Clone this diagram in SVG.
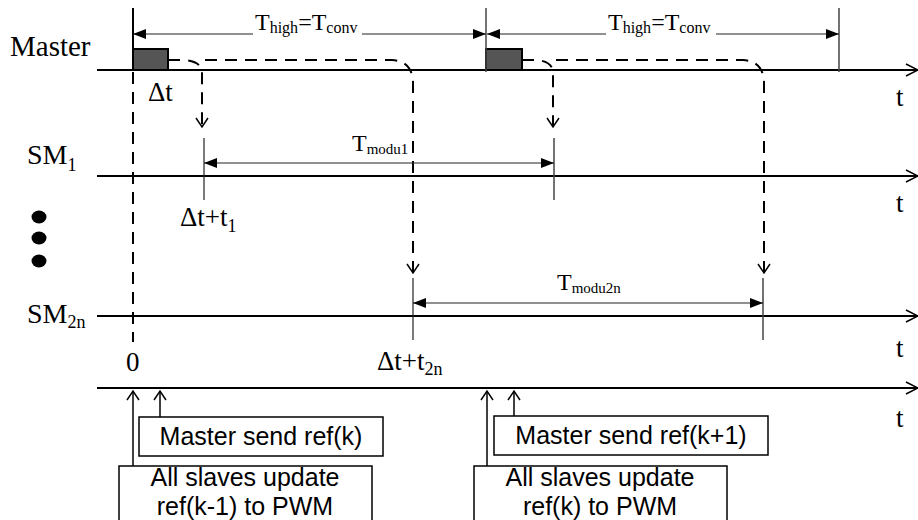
<svg xmlns="http://www.w3.org/2000/svg" width="918" height="520" viewBox="0 0 918 520">
<style>
.axis{stroke:#000;stroke-width:2;fill:none}
.dim{stroke:#222;stroke-width:1.2;fill:none}
.tick{stroke:#444;stroke-width:1.5;fill:none}
.dash{stroke:#000;stroke-width:2;fill:none;stroke-dasharray:12 8}
.pulse{fill:#555;stroke:#000;stroke-width:2}
.box{fill:#fff;stroke:#000;stroke-width:1.5}
.up{stroke:#000;stroke-width:1.5;fill:none}
.serif{font-family:"Liberation Serif","Times New Roman",serif;fill:#000}
.sans{font-family:"Liberation Sans",Arial,sans-serif;font-size:25px;fill:#000}
</style>
<defs>
<marker id="fill" markerUnits="userSpaceOnUse" markerWidth="14" markerHeight="10" refX="13" refY="5" orient="auto-start-reverse" overflow="visible">
<path d="M0,0 L13,5 L0,10 Z" fill="#000" stroke="none"/>
</marker>
<marker id="open" markerUnits="userSpaceOnUse" markerWidth="12" markerHeight="14" refX="9" refY="6" orient="auto" overflow="visible">
<path d="M0,0 L9,6 L0,12" fill="none" stroke="#000" stroke-width="1.5" stroke-dasharray="none"/>
</marker>
<marker id="axend" markerUnits="userSpaceOnUse" markerWidth="14" markerHeight="14" refX="12" refY="6" orient="auto" overflow="visible">
<path d="M0,0 L12,6 L0,12" fill="none" stroke="#000" stroke-width="1.5"/>
</marker>
</defs>

<g id="master-row">
<text class="serif" x="10" y="56" font-size="29">Master</text>
<line class="axis" x1="97" y1="70" x2="918" y2="70" marker-end="url(#axend)"/>
<rect class="pulse" x="133" y="49" width="35" height="21"/>
<rect class="pulse" x="486" y="49" width="36" height="21"/>
<text class="serif" x="148" y="101" font-size="27">Δt</text>
<text class="serif" x="896" y="106" font-size="27">t</text>
</g>

<g id="sm1-row">
<text class="serif" x="27" y="164" font-size="28">SM<tspan font-size="18" dy="7">1</tspan></text>
<line class="axis" x1="97" y1="176" x2="918" y2="176" marker-end="url(#axend)"/>
<text class="serif" x="180" y="226" font-size="27">Δt+t<tspan font-size="18" dy="6">1</tspan></text>
<text class="serif" x="896" y="212" font-size="27">t</text>
</g>

<g id="ellipsis">
<ellipse cx="39" cy="217" rx="7.5" ry="6.5"/>
<ellipse cx="39" cy="238" rx="7.5" ry="6.5"/>
<ellipse cx="39" cy="261" rx="7.5" ry="6.5"/>
</g>

<g id="sm2n-row">
<text class="serif" x="27" y="323" font-size="28">SM<tspan font-size="18" dy="5">2n</tspan></text>
<line class="axis" x1="97" y1="316" x2="918" y2="316" marker-end="url(#axend)"/>
<text class="serif" x="126" y="371" font-size="27">0</text>
<text class="serif" x="377" y="370" font-size="27">Δt+t<tspan font-size="18" dy="5">2n</tspan></text>
<text class="serif" x="896" y="357" font-size="27">t</text>
</g>

<g id="bottom-row">
<line class="axis" x1="97" y1="388" x2="918" y2="388" marker-end="url(#axend)"/>
<text class="serif" x="896" y="427" font-size="27">t</text>
</g>

<g id="box-send-k">
<rect class="box" x="139" y="417" width="244" height="39"/>
<text class="sans" x="261" y="445" text-anchor="middle">Master send ref(k)</text>
</g>
<g id="box-update-k1">
<rect class="box" x="119" y="466" width="253" height="60"/>
<text class="sans" x="245" y="486" text-anchor="middle">All slaves update</text>
<text class="sans" x="245" y="515" text-anchor="middle">ref(k-1) to PWM</text>
</g>
<g id="box-send-k1">
<rect class="box" x="494" y="416" width="274" height="39"/>
<text class="sans" x="631" y="444" text-anchor="middle">Master send ref(k+1)</text>
</g>
<g id="box-update-k">
<rect class="box" x="474" y="466" width="253" height="60"/>
<text class="sans" x="600" y="486" text-anchor="middle">All slaves update</text>
<text class="sans" x="600" y="515" text-anchor="middle">ref(k) to PWM</text>
</g>

<g id="connectors">
<line class="axis" x1="133" y1="8" x2="133" y2="49" stroke-width="1.5"/>
<line class="dash" x1="133" y1="72" x2="133" y2="342" stroke-width="1.8"/>
<line class="tick" x1="486" y1="8" x2="486" y2="72"/>
<line class="tick" x1="839" y1="8" x2="839" y2="72"/>
<line class="dim" x1="253" y1="34" x2="133" y2="34" marker-end="url(#fill)"/>
<line class="dim" x1="362" y1="34" x2="486" y2="34" marker-end="url(#fill)"/>
<line class="dim" x1="606" y1="34" x2="487" y2="34" marker-end="url(#fill)"/>
<line class="dim" x1="716" y1="34" x2="839" y2="34" marker-end="url(#fill)"/>
<text class="serif" x="255" y="30" font-size="24">T<tspan font-size="16" dy="3">high</tspan><tspan dy="-3">=T</tspan><tspan font-size="16" dy="3">conv</tspan></text>
<text class="serif" x="608" y="30" font-size="24">T<tspan font-size="16" dy="3">high</tspan><tspan dy="-3">=T</tspan><tspan font-size="16" dy="3">conv</tspan></text>
<path class="dash" d="M168,60 H184 Q201,61 202,72 V127" marker-end="url(#open)"/>
<path class="dash" d="M205,60 H392 Q412,61 413,82 V273" marker-end="url(#open)"/>
<path class="dash" d="M522,60 H536 Q552,61 553,72 V127" marker-end="url(#open)"/>
<path class="dash" d="M556,60 H743 Q763,61 764,82 V273" marker-end="url(#open)"/>
<line class="dim" x1="204" y1="138" x2="204" y2="200"/>
<line class="tick" x1="554" y1="138" x2="554" y2="200"/>
<line class="dim" x1="204" y1="163" x2="554" y2="163" marker-start="url(#fill)" marker-end="url(#fill)"/>
<text class="serif" x="352" y="151" font-size="24">T<tspan font-size="15" dy="3">modu1</tspan></text>
<line class="dim" x1="413" y1="278" x2="413" y2="340"/>
<line class="tick" x1="763" y1="278" x2="763" y2="340"/>
<line class="dim" x1="413" y1="303" x2="763" y2="303" marker-start="url(#fill)" marker-end="url(#fill)"/>
<text class="serif" x="557" y="290" font-size="24">T<tspan font-size="15" dy="3">modu2n</tspan></text>
<line class="up" x1="133" y1="466" x2="133" y2="391" marker-end="url(#open)"/>
<line class="up" x1="160" y1="417" x2="160" y2="391" marker-end="url(#open)"/>
<line class="up" x1="487" y1="466" x2="487" y2="391" marker-end="url(#open)"/>
<line class="up" x1="514" y1="416" x2="514" y2="391" marker-end="url(#open)"/>
</g>
</svg>
